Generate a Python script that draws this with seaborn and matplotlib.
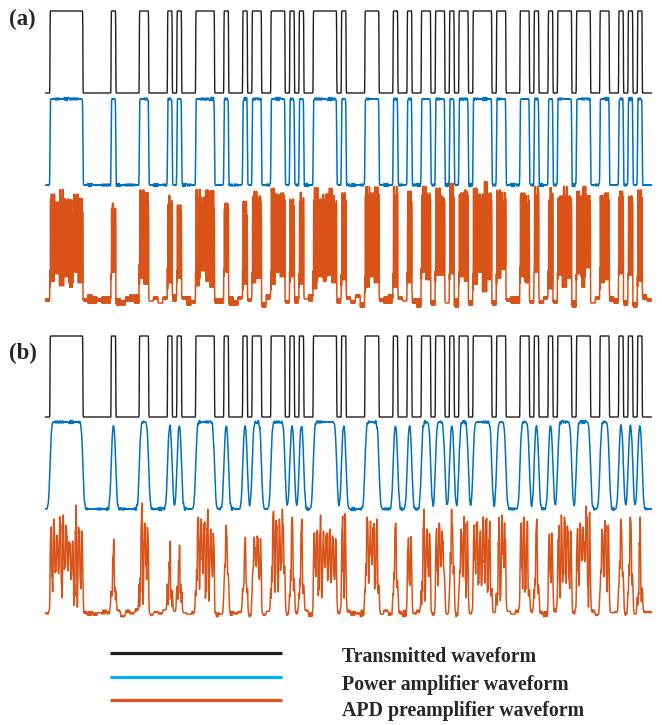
import numpy as np
import matplotlib
matplotlib.use("Agg")
import matplotlib.pyplot as plt
import seaborn as sns

# transmitted bit pattern
# (one low bit before and after the 127-bit frame)
bits_str = ("0 1111111000 0001000001 1000010100 0111100100 0101100111 0101001111 "
            "1010000111 0001001001 1011010110 1111011000 1101001011 1011100110 0101010 0")

# APD trace (a): band top / band bottom level per bit (0-9), also low-state jitter
oa_top_str = ("5 6475364536 4633526478 6453654362 4758635362 5347635867 4536547568 "
              "5375463879 4638547358 7486395784 8697486536 7548357468 6478536574 5746385 4")
oa_bot_str = ("4 3524162473 5366244735 2463527456 3264153624 6253417365 3462571436 "
              "2546371254 5372643517 4265371542 3614257463 5237461352 4162735246 3625147 5")

# APD trace (b): peak / trough level per bit
ob_pk_str = ("3 7576486352 4633526479 7354625243 5878643653 4434535978 4837546756 "
             "5394536867 3547365348 6475384673 7586467534 8647356478 6375843674 5748365 4")
ob_tr_str = ("4 3526413524 4352614352 5243615243 3462513624 5316425437 2453615264 "
             "4536241573 3624513462 5246371524 6352417536 4263514725 3547162534 4625314 5")

# power amplifier ripple per bit
ba_str = ("5 4657364574 5364756345 6475364573 5463745636 4756346574 5364756347 "
          "6453746354 4756346375 5364754637 6475365473 4563745364 5746356475 4637465 5")
bb_str = ("4 5364756345 6475364573 4657364574 4756346574 5463745636 6453746354 "
          "5364756347 5364754637 4756346375 4563745364 6475365473 4637465357 5746356 4")

legend_labels = ["Transmitted waveform", "Power amplifier waveform", "APD preamplifier waveform"]


def digits(s):
    return np.array([int(c) for c in s.replace(" ", "")], dtype=float)


bits = digits(bits_str)
oa_top, oa_bot = digits(oa_top_str), digits(oa_bot_str)
ob_pk, ob_tr = digits(ob_pk_str), digits(ob_tr_str)
ba, bb = digits(ba_str), digits(bb_str)

S = 24  # samples per bit
n = len(bits)
t = (np.arange(n * S) + 0.5) / S - 1
idx = np.arange(n * S)
alt_fast = (idx // 2) % 2
alt_b = (idx // 8) % 2
alt_lo = (idx // 4) % 2
sgn_slow = 2 * ((idx // 5) % 2) - 1
sgn_quart = 2 * ((idx // 7) % 2) - 1
sgn_b = 2 * ((idx // 3) % 2) - 1


def rep(a):
    return np.repeat(a, S)


def smooth(x, sigma_bits):
    sig = sigma_bits * S
    m = int(4 * sig) + 1
    k = np.arange(-m, m + 1)
    g = np.exp(-0.5 * (k / sig) ** 2)
    g /= g.sum()
    return np.convolve(np.pad(x, m, mode="edge"), g, mode="valid")


b = rep(bits)

# black: transmitted
tx = smooth(b, 0.03)

# blue: power amplifier output
rip_a = (rep(ba) - 4.5) * 0.007 * sgn_slow
pa_a = smooth(smooth(b, 0.05) + rip_a, 0.02)
rip_b = (rep(bb) - 4.5) * 0.007 * sgn_slow
pa_b = smooth(smooth(b, 0.25) + rip_b, 0.02)

# orange: APD preamplifier output (a) - dense band while high
r = smooth(b, 0.04)
top = 0.85 + 0.03 * rep(oa_top) + 0.018 * (rep(oa_bot) - 4.5) * sgn_quart
bot = 0.12 + 0.03 * rep(oa_bot) + 0.015 * (rep(oa_top) - 4.5) * sgn_slow
hi = np.where(alt_fast, top, bot)
lo = np.where(alt_fast, (rep(oa_top) - 4.5) * 0.02, (rep(oa_bot) - 4.5) * 0.02)
apd_a = r * hi + (1 - r) * lo

# (b) - slower swings with small fast jitter on top
r = smooth(b, 0.12)
pk = 0.45 + 0.06 * rep(ob_pk) + 0.05 * (rep(ob_tr) - 4.5) * sgn_b
tr = 0.10 + 0.06 * rep(ob_tr) + 0.04 * (rep(ob_pk) - 4.5) * sgn_b
hi = np.where(alt_b, pk, tr)
lo = np.where(alt_lo, (rep(ob_pk) - 4.5) * 0.014, (rep(ob_tr) - 4.5) * 0.014)
apd_b = smooth(r * hi + (1 - r) * lo, 0.04)

sns.set_theme(style="white")
plt.rcParams["font.family"] = ["Liberation Serif", "DejaVu Serif"]

fig = plt.figure(figsize=(6.62, 7.25), dpi=100)
ax = fig.add_axes([0, 0, 1, 1])

black = "#1e1e1e"
blue = "#0072BD"
orange = "#D95319"

# panel (a)
sns.lineplot(x=t, y=93 - 82 * tx, ax=ax, color=black, lw=1.0, estimator=None, sort=False)
sns.lineplot(x=t, y=185 - 86 * pa_a, ax=ax, color=blue, lw=1.1, estimator=None, sort=False)
sns.lineplot(x=t, y=300 - 100 * apd_a, ax=ax, color=orange, lw=1.1, estimator=None, sort=False)
# panel (b)
sns.lineplot(x=t, y=417 - 81 * tx, ax=ax, color=black, lw=1.0, estimator=None, sort=False)
sns.lineplot(x=t, y=509 - 87 * pa_b, ax=ax, color=blue, lw=1.1, estimator=None, sort=False)
sns.lineplot(x=t, y=612 - 100 * apd_b, ax=ax, color=orange, lw=1.1, estimator=None, sort=False)

ax.set_xlim(-50 / 4.7, 612 / 4.7)
ax.set_ylim(725, 0)
ax.axis("off")

ax.text(-41 / 4.7, 19, "(a)", fontsize=16.5, fontweight="bold", va="center", ha="left")
ax.text(-41 / 4.7, 353, "(b)", fontsize=16.5, fontweight="bold", va="center", ha="left")

# legend
lax = fig.add_axes([0, 0, 1, 1], facecolor="none")
lax.set_xlim(0, 662)
lax.set_ylim(725, 0)
lax.axis("off")
leg_colors = [black, "#00B0F0", "#E0531A"]
leg_line_y = [653, 677, 700]
leg_text_y = [657, 685, 711]
for lab, c, ly, ty in zip(legend_labels, leg_colors, leg_line_y, leg_text_y):
    lax.plot([110, 282], [ly, ly], color=c, lw=2.3, solid_capstyle="butt")
    lax.text(342, ty, lab, fontsize=14.3, fontweight="bold", va="center", ha="left")

fig.savefig("out.png", dpi=100)
